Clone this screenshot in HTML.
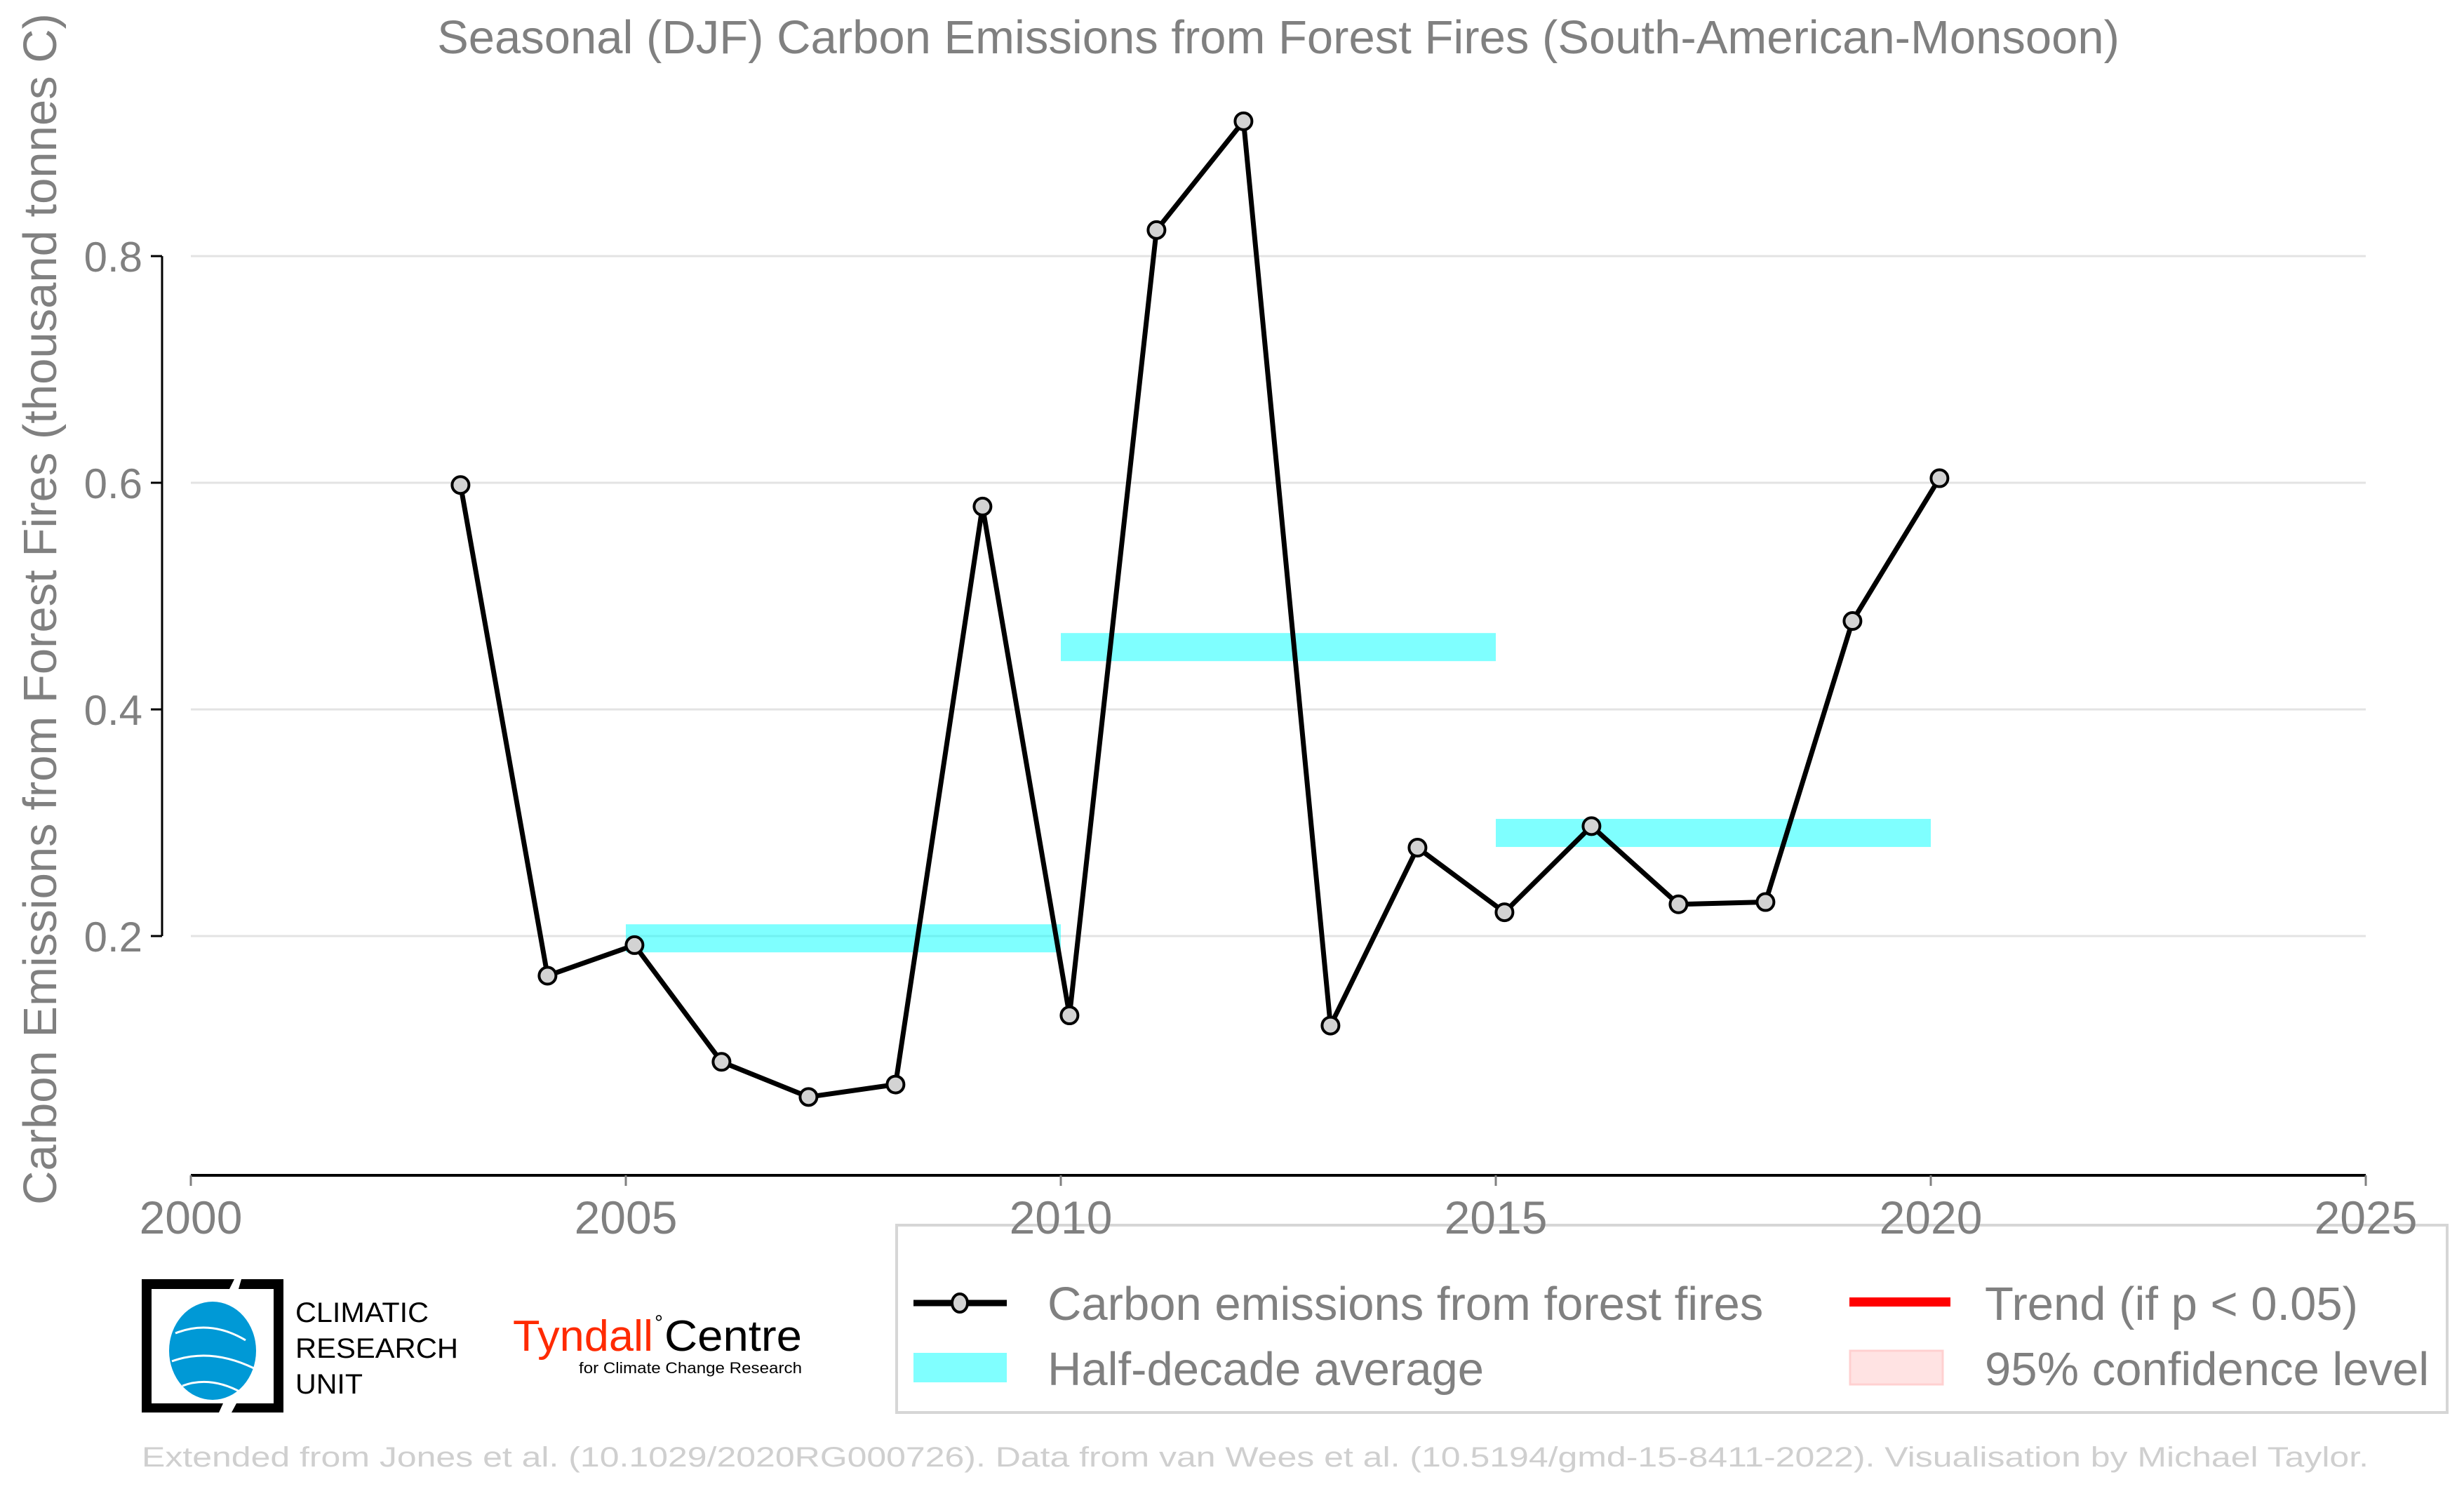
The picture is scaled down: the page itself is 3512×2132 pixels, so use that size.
<!DOCTYPE html>
<html><head><meta charset="utf-8"><style>
html,body{margin:0;padding:0;background:#fff;}
svg{display:block;font-family:"Liberation Sans",Arial,sans-serif;}
</style></head><body>
<svg id="chart" width="3512" height="2132" viewBox="0 0 3512 2132" xmlns="http://www.w3.org/2000/svg">
<text x="1822" y="76" text-anchor="middle" font-size="67" fill="#808080">Seasonal (DJF) Carbon Emissions from Forest Fires (South-American-Monsoon)</text>
<text transform="translate(80,868) rotate(-90)" text-anchor="middle" font-size="67" fill="#808080">Carbon Emissions from Forest Fires (thousand tonnes C)</text>
<g id="grid"></g>
<g id="yaxis"></g>
<g id="bars"></g>
<g id="series"></g>

<g>
<rect x="1278" y="1746" width="2210" height="267" fill="#fff" stroke="#d6d6d6" stroke-width="4"/>
<g>
<line x1="1302" y1="1857" x2="1435" y2="1857" stroke="#000" stroke-width="9"/>
<ellipse cx="1368" cy="1857" rx="11" ry="13" fill="#d3d3d3" stroke="#000" stroke-width="4"/>
<text x="1493" y="1881" font-size="67" fill="#808080">Carbon emissions from forest fires</text>
</g>
<g>
<rect x="1302" y="1928" width="133" height="42" fill="#80ffff"/>
<text x="1493" y="1974" font-size="67" fill="#808080">Half-decade average</text>
</g>
<g>
<rect x="2636" y="1849" width="144" height="13" fill="#ff0000"/>
<text x="2829" y="1881" font-size="67" fill="#808080">Trend (if p &lt; 0.05)</text>
</g>
<g>
<rect x="2637" y="1925" width="132" height="48" fill="#ffe3e3" stroke="#ffd0d0" stroke-width="3"/>
<text x="2829" y="1974" font-size="67" fill="#808080">95% confidence level</text>
</g>
</g>
<g id="xaxis"></g>

<g>
<path d="M202,1823 H334 L327,1837 H216 V2000 H318 L312,2013 H202 Z" fill="#000"/>
<path d="M344,1823 H404 V2013 H330 L337,2000 H390 V1837 H340 Z" fill="#000"/>
<ellipse cx="303" cy="1925" rx="62" ry="70" fill="#0099d6"/>
<path d="M250,1900 Q300,1880 350,1910 M245,1940 Q300,1920 362,1950 M260,1975 Q300,1960 345,1985" stroke="#fff" stroke-width="3" fill="none"/>
<text x="421" y="1884" font-size="40" fill="#000" textLength="190" lengthAdjust="spacingAndGlyphs">CLIMATIC</text>
<text x="421" y="1935" font-size="40" fill="#000" textLength="232" lengthAdjust="spacingAndGlyphs">RESEARCH</text>
<text x="421" y="1986" font-size="40" fill="#000" textLength="96" lengthAdjust="spacingAndGlyphs">UNIT</text>
</g>
<g>
<text x="731" y="1925" font-size="62" fill="#ff2a00" textLength="200" lengthAdjust="spacingAndGlyphs">Tyndall</text>
<text x="933" y="1895" font-size="30" fill="#000">°</text>
<text x="947" y="1925" font-size="62" fill="#000" textLength="196" lengthAdjust="spacingAndGlyphs">Centre</text>
<text x="825" y="1957" font-size="22" fill="#000" textLength="318" lengthAdjust="spacingAndGlyphs">for Climate Change Research</text>
</g>
<text x="202" y="2090" font-size="40" fill="#cfcfcf" textLength="3174" lengthAdjust="spacingAndGlyphs">Extended from Jones et al. (10.1029/2020RG000726). Data from van Wees et al. (10.5194/gmd-15-8411-2022). Visualisation by Michael Taylor.</text>

<script>
const years = [2003,2004,2005,2006,2007,2008,2009,2010,2011,2012,2013,2014,2015,2016,2017,2018,2019,2020];
const emissions = [0.598,0.165,0.192,0.089,0.058,0.069,0.579,0.130,0.823,0.919,0.121,0.278,0.221,0.297,0.228,0.230,0.478,0.604];
const halfStart = [2005,2010,2015];
const halfEnd = [2010,2015,2020];
const halfAvg = [0.198,0.455,0.291];
const yTicks = [0.2,0.4,0.6,0.8];
const xTicks = [2000,2005,2010,2015,2020,2025];

const NS="http://www.w3.org/2000/svg";
function xs(v){return 272+(v-2000)*124;}
function ys(v){return 1657-v*1615;}
function mk(tag,attrs,parent){const e=document.createElementNS(NS,tag);for(const k in attrs)e.setAttribute(k,attrs[k]);parent.appendChild(e);return e;}
const grid=document.getElementById('grid'),ya=document.getElementById('yaxis'),xa=document.getElementById('xaxis'),bars=document.getElementById('bars'),ser=document.getElementById('series');

yTicks.forEach(t=>{
  const g=mk('line',{x1:xs(2000),x2:xs(2025),y1:ys(t),y2:ys(t),stroke:'#e3e3e3','stroke-width':3},grid);
  
  
  const tk=mk('line',{x1:215,x2:231,y1:ys(t),y2:ys(t),stroke:'#000','stroke-width':3},ya);
  
  
  const lb=mk('text',{x:203,y:ys(t)+22,'text-anchor':'end','font-size':60,fill:'#808080'},ya);
  lb.textContent=t.toFixed(1);
  
  
});
const sp=mk('line',{x1:231,x2:231,y1:ys(0.8),y2:ys(0.2),stroke:'#000','stroke-width':3},ya);


const xl=mk('line',{x1:xs(2000),x2:xs(2025),y1:1675,y2:1675,stroke:'#000','stroke-width':4},xa);


xTicks.forEach(t=>{
  const tk=mk('line',{x1:xs(t),x2:xs(t),y1:1675,y2:1690,stroke:'#808080','stroke-width':3},xa);
  
  
  const lb=mk('text',{x:xs(t),y:1758,'text-anchor':'middle','font-size':66,fill:'#808080'},xa);
  lb.textContent=t;
  
  
});
halfAvg.forEach((v,i)=>{
  const r=mk('rect',{x:xs(halfStart[i]),y:ys(v)-20,width:xs(halfEnd[i])-xs(halfStart[i]),height:40,fill:'#00ffff','fill-opacity':0.5},bars);
  
  
});
const pts=years.map((y,i)=>xs(y+0.1)+','+ys(emissions[i])).join(' ');
const pl=mk('polyline',{points:pts,fill:'none',stroke:'#000','stroke-width':7,'stroke-linejoin':'round'},ser);


years.forEach((y,i)=>{
  const c=mk('circle',{cx:xs(y+0.1),cy:ys(emissions[i]),r:12,fill:'#d3d3d3',stroke:'#000','stroke-width':4},ser);
  
  
});
</script>
</svg>
</body></html>
